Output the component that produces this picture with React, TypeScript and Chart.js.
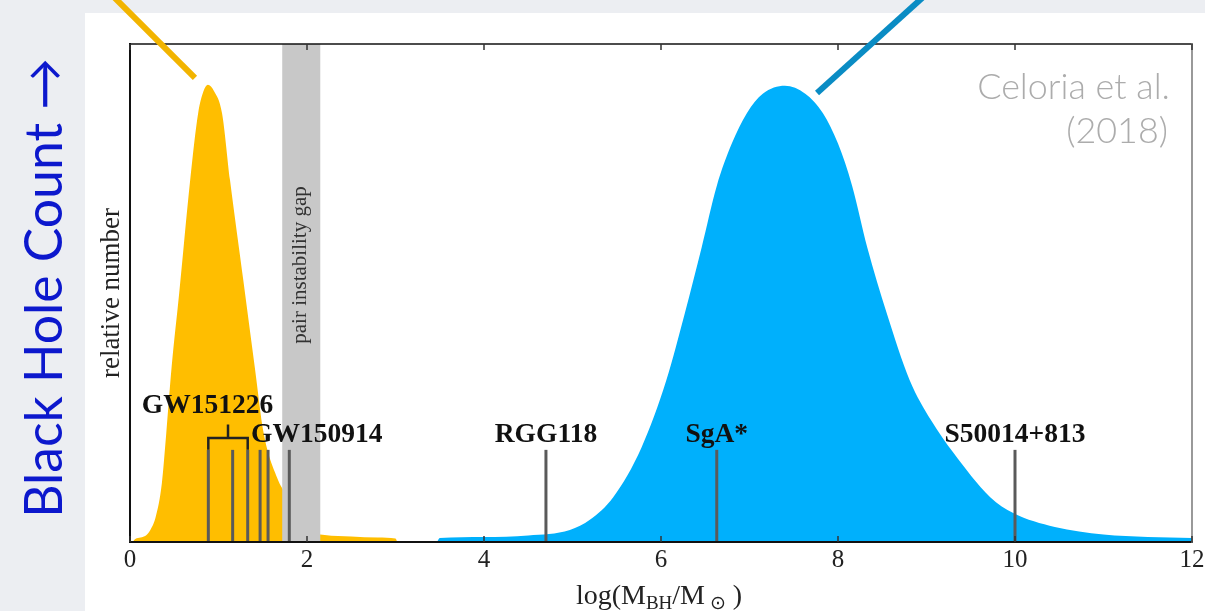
import React, { useEffect, useRef } from "react";
import { Chart, registerables } from "chart.js";
Chart.register(...registerables);

// ---- data (log M_BH/M_sun vs relative number) ----
const orangeX = [0.03, 0.06, 0.12, 0.18, 0.23, 0.29, 0.36, 0.41, 0.47, 0.556, 0.68, 0.77, 0.83, 0.88, 0.95, 1.04, 1.13, 1.28, 1.41, 1.51, 1.66, 1.78, 1.95, 2.1, 2.2, 2.5, 2.8, 3.0, 3.02];
const orangeY = [0, 0.006, 0.009, 0.013, 0.024, 0.05, 0.118, 0.219, 0.351, 0.5, 0.727, 0.861, 0.905, 0.918, 0.905, 0.861, 0.727, 0.526, 0.351, 0.219, 0.13, 0.09, 0.04, 0.018, 0.014, 0.011, 0.009, 0.007, 0];

const blueX = [3.47, 3.5, 4.0, 4.5, 4.97, 5.2, 5.46, 5.78, 6.06, 6.27, 6.46, 6.63, 6.8, 6.97, 7.15, 7.4, 7.63, 7.83, 8.0, 8.16, 8.33, 8.55, 8.81, 9.05, 9.3, 9.72, 9.98, 10.45, 11.0, 11.5, 12.0];
const blueY = [0, 0.008, 0.01, 0.013, 0.024, 0.045, 0.09, 0.19, 0.325, 0.46, 0.592, 0.715, 0.8, 0.861, 0.9, 0.916, 0.9, 0.861, 0.8, 0.715, 0.592, 0.46, 0.325, 0.245, 0.18, 0.09, 0.058, 0.03, 0.015, 0.01, 0.008];

const xTicks = [0, 2, 4, 6, 8, 10, 12];
const gapRange = [1.72, 2.15];
const gwMergerX = [0.885, 1.16, 1.33, 1.47, 1.56, 1.8];
const smbhNames = ["RGG118", "SgA*", "S50014+813"];
const smbhX = [4.7, 6.63, 10.0];
const markerTop = 0.185;

// label anchors (data units)
const gwLabels = ["GW151226", "GW150914"];
const gwLabelX = [0.875, 2.11];
const gwLabelY = [0.259, 0.201];
const smbhLabelY = 0.201;

// leader lines (data units): [x0, y0, x1, y1]
const orangeLeader = [-0.282, 1.112, 0.734, 0.932];
const blueLeader = [9.073, 1.112, 7.763, 0.9016];

const SERIF = '"Liberation Serif", "Times New Roman", serif';
const SANS = 'Lato, "Open Sans", "DejaVu Sans", sans-serif';

const decor = {
  id: "decor",
  beforeDraw(chart: any) {
    const { ctx, width, height } = chart;
    ctx.save();
    ctx.fillStyle = "#eceef2";
    ctx.fillRect(0, 0, width, height);
    ctx.fillStyle = "#ffffff";
    ctx.fillRect(85, 13, width - 85, height - 13);
    ctx.restore();
  },
  afterDatasetsDraw(chart: any) {
    const { ctx, chartArea: ca } = chart;
    const x = chart.scales.x;
    const y = chart.scales.y;
    const px = (v: number) => x.getPixelForValue(v);
    const py = (v: number) => y.getPixelForValue(v);
    ctx.save();

    // pair-instability gap
    const g0 = px(gapRange[0]);
    const g1 = px(gapRange[1]);
    ctx.fillStyle = "#c8c8c8";
    ctx.fillRect(g0, ca.top, g1 - g0, ca.bottom - ca.top);
    ctx.save();
    ctx.translate((g0 + g1) / 2 + 5, 265);
    ctx.rotate(-Math.PI / 2);
    ctx.fillStyle = "#333";
    ctx.font = `21px ${SERIF}`;
    ctx.textAlign = "center";
    ctx.textBaseline = "alphabetic";
    ctx.fillText("pair instability gap", 0, 0);
    ctx.restore();

    // marker lines
    ctx.strokeStyle = "#5a5a5a";
    ctx.lineWidth = 3;
    ctx.lineCap = "butt";
    [...gwMergerX, ...smbhX].forEach((v) => {
      ctx.beginPath();
      ctx.moveTo(px(v), py(0));
      ctx.lineTo(px(v), py(markerTop));
      ctx.stroke();
    });

    // bracket for GW151226 group
    ctx.strokeStyle = "#222";
    ctx.lineWidth = 2.5;
    const bl = px(gwMergerX[0]);
    const br = px(gwMergerX[2]);
    const bm = (bl + br) / 2;
    ctx.beginPath();
    ctx.moveTo(bl, py(markerTop));
    ctx.lineTo(bl, py(0.209));
    ctx.lineTo(br, py(0.209));
    ctx.lineTo(br, py(markerTop));
    ctx.moveTo(bm, py(0.209));
    ctx.lineTo(bm, py(0.236));
    ctx.stroke();

    // bold labels
    ctx.fillStyle = "#111";
    ctx.font = `bold 27.5px ${SERIF}`;
    ctx.textAlign = "center";
    ctx.textBaseline = "alphabetic";
    gwLabels.forEach((t, i) => ctx.fillText(t, px(gwLabelX[i]), py(gwLabelY[i])));
    smbhNames.forEach((t, i) => ctx.fillText(t, px(smbhX[i]), py(smbhLabelY)));

    // frame
    ctx.lineCap = "square";
    ctx.strokeStyle = "#111";
    ctx.lineWidth = 2;
    ctx.beginPath();
    ctx.moveTo(ca.left, ca.top);
    ctx.lineTo(ca.left, ca.bottom);
    ctx.lineTo(ca.right, ca.bottom);
    ctx.stroke();
    ctx.lineWidth = 1.6;
    ctx.beginPath();
    ctx.moveTo(ca.left, ca.top);
    ctx.lineTo(ca.right, ca.top);
    ctx.stroke();
    ctx.strokeStyle = "#808080";
    ctx.beginPath();
    ctx.moveTo(ca.right, ca.top);
    ctx.lineTo(ca.right, ca.bottom);
    ctx.stroke();

    // ticks and tick labels
    ctx.lineCap = "butt";
    ctx.strokeStyle = "#333";
    ctx.lineWidth = 1.5;
    ctx.fillStyle = "#222";
    ctx.font = `25px ${SERIF}`;
    ctx.textAlign = "center";
    xTicks.forEach((v) => {
      const p = px(v);
      ctx.beginPath();
      ctx.moveTo(p, ca.bottom);
      ctx.lineTo(p, ca.bottom - 6);
      ctx.moveTo(p, ca.top);
      ctx.lineTo(p, ca.top + 6);
      ctx.stroke();
      ctx.fillText(String(v), p, ca.bottom + 25);
    });

    // x axis title: log(M_BH/M_sun)
    const parts: [string, number, number][] = [
      ["log(M", 28, 0],
      ["BH", 19, 5],
      ["/M", 28, 0],
      [" \u2299", 19, 5],
      [" )", 28, 0],
    ];
    let total = 0;
    parts.forEach(([t, s]) => {
      ctx.font = `${s}px ${SERIF}`;
      total += ctx.measureText(t).width;
    });
    let cx = 659 - total / 2;
    ctx.textAlign = "left";
    ctx.fillStyle = "#222";
    parts.forEach(([t, s, dy]) => {
      ctx.font = `${s}px ${SERIF}`;
      ctx.fillText(t, cx, 604 + dy);
      cx += ctx.measureText(t).width;
    });

    // y label
    ctx.save();
    ctx.translate(119, 293);
    ctx.rotate(-Math.PI / 2);
    ctx.textAlign = "center";
    ctx.font = `27px ${SERIF}`;
    ctx.fillStyle = "#222";
    ctx.fillText("relative number", 0, 0);
    ctx.restore();

    // big outer label
    ctx.save();
    ctx.translate(62, 288);
    ctx.rotate(-Math.PI / 2);
    ctx.textAlign = "center";
    const big = "Black Hole Count \u2192";
    ctx.font = `50px ${SANS}`;
    const w = ctx.measureText(big).width;
    const fs = (50 * 460) / w;
    ctx.font = `${fs.toFixed(1)}px ${SANS}`;
    ctx.fillStyle = "#0c18cd";
    ctx.fillText(big, 0, 0);
    ctx.restore();

    // credit
    ctx.fillStyle = "#acacac";
    ctx.textAlign = "right";
    ctx.font = `300 34px ${SANS}`;
    const cw = ctx.measureText("Celoria et al.").width;
    const cfs = (34 * 193) / cw;
    ctx.font = `300 ${cfs.toFixed(1)}px ${SANS}`;
    ctx.fillText("Celoria et al.", 1170, 99);
    ctx.fillText("(2018)", 1168, 143);

    // leader lines
    ctx.lineCap = "butt";
    ctx.lineWidth = 6;
    ctx.strokeStyle = "#f2b400";
    ctx.beginPath();
    ctx.moveTo(px(orangeLeader[0]), py(orangeLeader[1]));
    ctx.lineTo(px(orangeLeader[2]), py(orangeLeader[3]));
    ctx.stroke();
    ctx.strokeStyle = "#0a8cc4";
    ctx.beginPath();
    ctx.moveTo(px(blueLeader[0]), py(blueLeader[1]));
    ctx.lineTo(px(blueLeader[2]), py(blueLeader[3]));
    ctx.stroke();

    ctx.restore();
  },
};

export default function App() {
  const ref = useRef<HTMLCanvasElement | null>(null);
  useEffect(() => {
    if (!ref.current) return;
    const chart = new Chart(ref.current, {
      type: "line",
      data: {
        datasets: [
          {
            label: "stellar",
            data: orangeX.map((v, i) => ({ x: v, y: orangeY[i] })),
            backgroundColor: "#ffbe00",
            borderWidth: 0,
            borderColor: "rgba(0,0,0,0)",
            pointRadius: 0,
            fill: "origin",
            cubicInterpolationMode: "monotone",
          },
          {
            label: "supermassive",
            data: blueX.map((v, i) => ({ x: v, y: blueY[i] })),
            backgroundColor: "#00b0fc",
            borderWidth: 0,
            borderColor: "rgba(0,0,0,0)",
            pointRadius: 0,
            fill: "origin",
            cubicInterpolationMode: "monotone",
          },
        ],
      },
      options: {
        responsive: false,
        animation: false,
        layout: { padding: { left: 130, right: 13, top: 44, bottom: 69 } },
        plugins: { legend: { display: false }, tooltip: { enabled: false } },
        scales: {
          x: { type: "linear", min: 0, max: 12, display: false },
          y: { type: "linear", min: 0, max: 1, display: false },
        },
      },
      plugins: [decor],
    });
    return () => chart.destroy();
  }, []);
  return (
    <div style={{ position: "absolute", left: 0, top: 0, width: 1205, height: 611 }}>
      <canvas ref={ref} width={1205} height={611} style={{ display: "block" }} />
    </div>
  );
}
